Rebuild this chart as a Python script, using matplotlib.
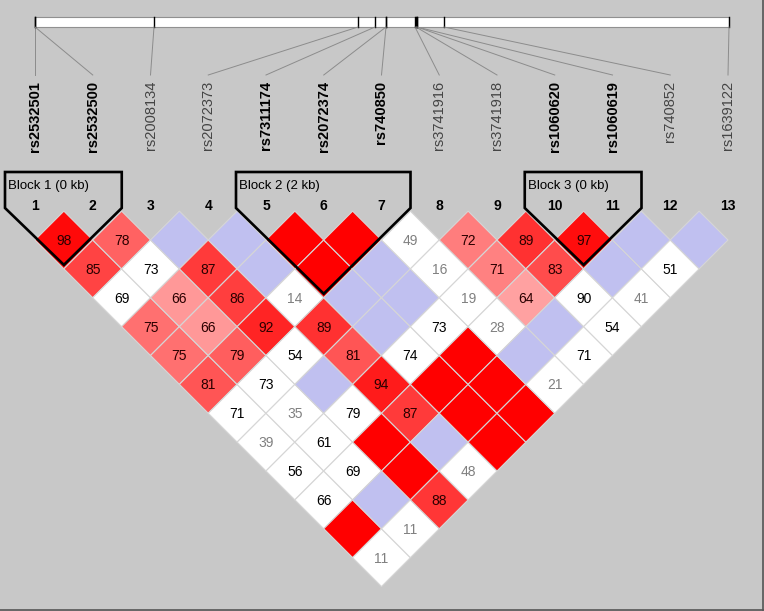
import matplotlib
matplotlib.use("Agg")
import matplotlib.pyplot as plt
from matplotlib.patches import Polygon, Rectangle

plt.rcParams['font.family'] = ['Liberation Sans', 'DejaVu Sans']

# marker names, and which ones sit inside a block (drawn bold)
markers = ['rs2532501', 'rs2532500', 'rs2008134', 'rs2072373', 'rs7311174',
           'rs2072374', 'rs740850', 'rs3741916', 'rs3741918', 'rs1060620',
           'rs1060619', 'rs740852', 'rs1639122']
in_block = [1, 1, 0, 0, 1, 1, 1, 0, 0, 1, 1, 0, 0]
# where each marker hits the chromosome bar (pixels along the bar)
bar_pos = [35, 35, 154, 358, 375, 386, 386, 415, 416, 417, 417, 444, 729]

# D' (x100) for pair (i, j>i); 100 = no number shown
dprime = [
    [98, 85, 69, 75, 75, 81, 71, 39, 56, 66, 100, 11],
    [78, 73, 66, 66, 79, 73, 35, 61, 69, 100, 11],
    [100, 87, 86, 92, 54, 100, 79, 100, 100, 88],
    [100, 100, 14, 89, 81, 94, 87, 100, 48],
    [100, 100, 100, 100, 74, 100, 100, 100],
    [100, 100, 100, 73, 100, 100, 100],
    [49, 16, 19, 28, 100, 21],
    [72, 71, 64, 100, 71],
    [89, 83, 90, 54],
    [97, 100, 41],
    [100, 51],
    [100],
]
# LOD >= 2 ?
strong = [
    [1, 1, 0, 1, 1, 1, 0, 0, 0, 0, 1, 0],
    [1, 0, 1, 1, 1, 0, 0, 0, 0, 0, 0],
    [0, 1, 1, 1, 0, 0, 0, 1, 1, 1],
    [0, 0, 0, 1, 1, 1, 1, 0, 0],
    [1, 1, 0, 0, 0, 1, 1, 1],
    [1, 0, 0, 0, 1, 1, 1],
    [0, 0, 0, 0, 0, 0],
    [1, 1, 1, 0, 0],
    [1, 1, 0, 0],
    [1, 0, 0],
    [0, 0],
    [0],
]
blocks = [(1, 2, 'Block 1 (0 kb)'), (5, 7, 'Block 2 (2 kb)'), (10, 11, 'Block 3 (0 kb)')]

W, H = 764, 611
fig = plt.figure(figsize=(W / 100, H / 100), dpi=100)
fig.patch.set_facecolor('#c8c8c8')
ax = fig.add_axes([0, 0, 1, 1])
ax.set_xlim(0, W)
ax.set_ylim(H, 0)
ax.axis('off')

n = len(markers)
step = 57.75
xs = [35 + step * k for k in range(n)]
half = step / 2
row0 = 240

def cell_color(d, s):
    if d == 100:
        return (1, 0, 0) if s else (192 / 255, 192 / 255, 240 / 255)
    if not s:
        return 'white'
    g = max(0, min(255, 223 * 2 * (1 - d / 100))) / 255
    return (1, g, g)

# LD cells
for i in range(n - 1):
    for k, d in enumerate(dprime[i]):
        j = i + 1 + k
        cx = (xs[i] + xs[j]) / 2
        cy = row0 + half * (j - i - 1)
        pts = [(cx, cy - half), (cx + half, cy), (cx, cy + half), (cx - half, cy)]
        ax.add_patch(Polygon(pts, closed=True, facecolor=cell_color(d, strong[i][k]),
                             edgecolor='#d6d6d6', lw=0.8))
        if d < 100:
            col = '#808080' if d < 50 else ('#2a0000' if strong[i][k] else 'black')
            ax.text(cx, cy + 1, str(d), ha='center', va='center', fontsize=10, color=col)

# block outlines
for a, b, name in blocks:
    left = xs[a - 1] - 30
    right = xs[b - 1] + 29
    mid = (xs[a - 1] + xs[b - 1]) / 2
    pts = [(left, 172), (right, 172), (right, 208), (mid, 207 + (right - mid)),
           (left, 208)]
    ax.add_patch(Polygon(pts, closed=True, fill=False, edgecolor='black', lw=1.9,
                         joinstyle='miter'))
    ax.text(left + 3, 186, name, ha='left', va='center', fontsize=9.5)

# marker numbers
for k in range(n):
    ax.text(xs[k], 206, str(k + 1), ha='center', va='center', fontsize=10,
            fontweight='bold')

# chromosome bar and connector lines
ax.add_patch(Rectangle((35, 17), 694, 10, facecolor='white', edgecolor='#909090', lw=0.8))
for k in range(n):
    ax.plot([bar_pos[k], bar_pos[k]], [17, 27], color='black', lw=1.0)
    ax.plot([bar_pos[k], xs[k]], [27, 75], color='#8c8c8c', lw=0.7)
    ax.text(xs[k], 81, markers[k], rotation=90, ha='center', va='top', fontsize=10.5,
            fontweight='bold' if in_block[k] else 'normal',
            color='black' if in_block[k] else '#444444')

# frame lines at right and bottom
ax.plot([762.5, 762.5], [0, 610], color='#555555', lw=1.2)
ax.plot([0, 763], [609.5, 609.5], color='#555555', lw=1.2)

fig.savefig('out.png', dpi=100, facecolor=fig.get_facecolor())
